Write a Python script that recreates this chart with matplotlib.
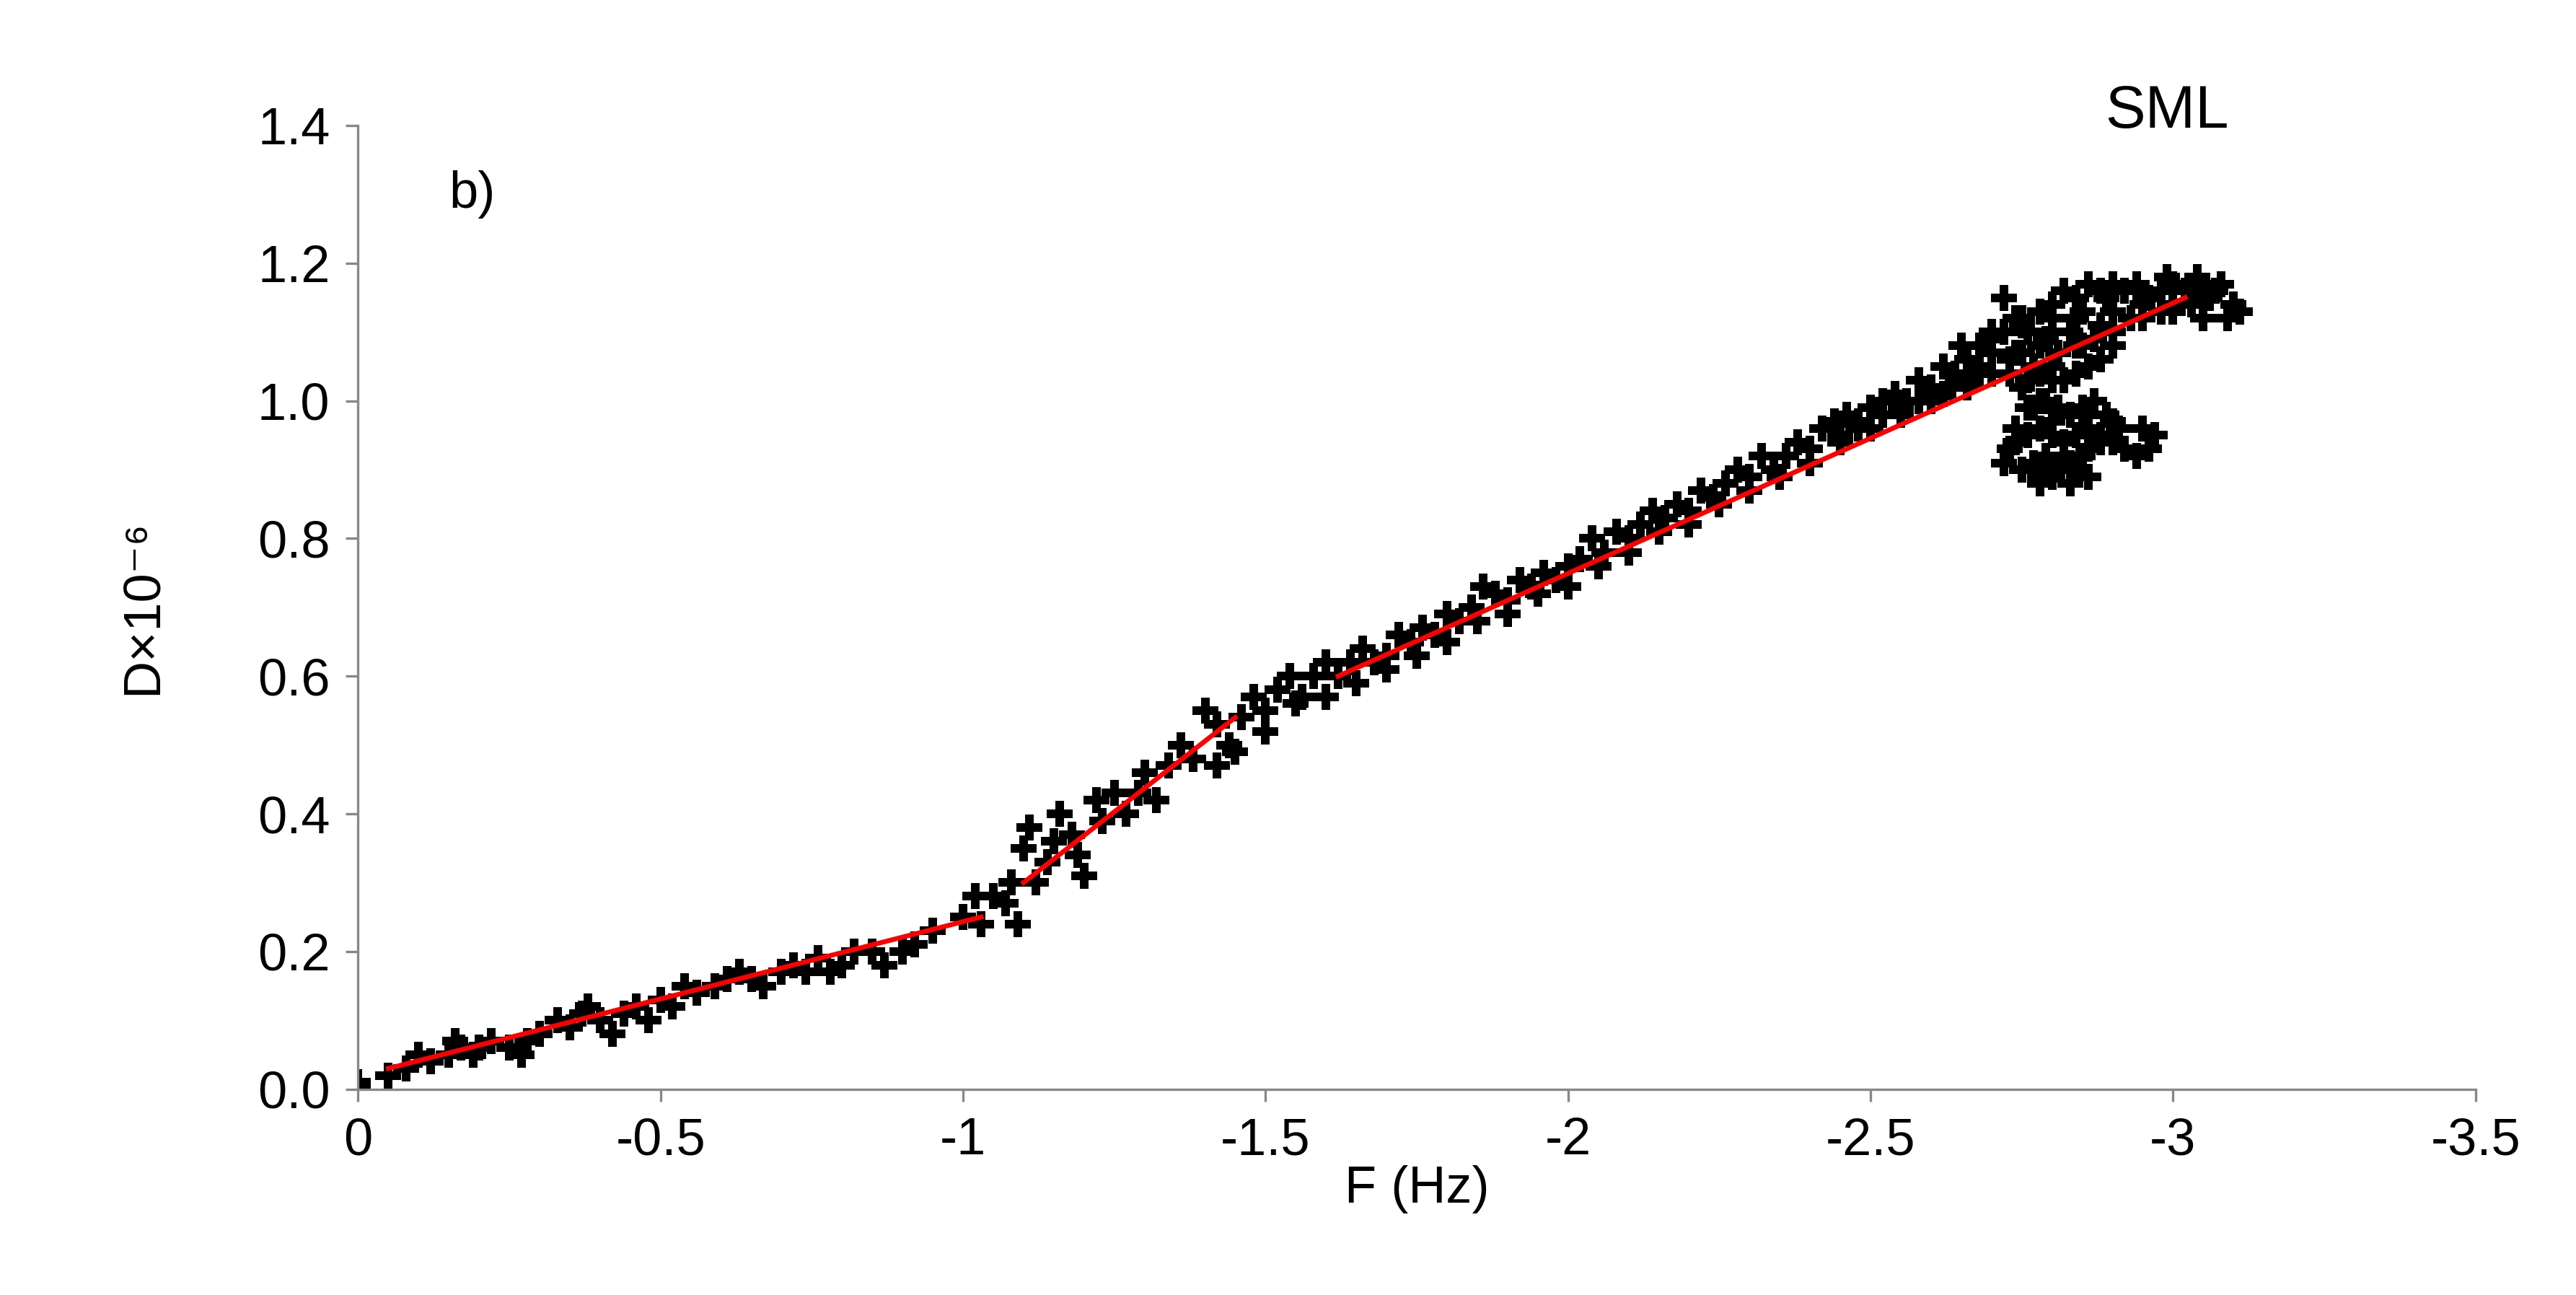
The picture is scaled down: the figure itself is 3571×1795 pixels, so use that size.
import matplotlib
matplotlib.use("Agg")
import matplotlib.pyplot as plt

plt.rcParams['font.family'] = ['Liberation Sans', 'DejaVu Sans']

# scattered measurements (F, D x 1e-6)
f_vals = [0, 0, -0.05, -0.08, -0.1, -0.12, -0.15, -0.16, -0.17, -0.19, -0.2, -0.22, -0.25, -0.27, -0.28,
          -0.3, -0.33, -0.35, -0.37, -0.38, -0.4, -0.42, -0.44, -0.46, -0.48, -0.5, -0.52, -0.54, -0.56,
          -0.59, -0.61, -0.63, -0.65, -0.67, -0.7, -0.72, -0.74, -0.76, -0.78, -0.8, -0.82, -0.85, -0.87,
          -0.9, -0.92, -0.95, -1.0, -1.02, -1.03, -1.05, -1.07, -1.08, -1.09, -1.1, -1.11, -1.12, -1.14,
          -1.15, -1.16, -1.18, -1.19, -1.2, -1.22, -1.23, -1.25, -1.27, -1.29, -1.3, -1.32, -1.34, -1.36,
          -1.38, -1.4, -1.42, -1.44, -1.46, -1.48, -1.5, -1.52, -1.54, -1.56, -1.58, -1.6, -1.62, -1.64,
          -1.66, -1.68, -1.7, -1.72, -1.74, -1.76, -1.78, -1.8, -1.82, -1.84, -1.86, -1.88, -1.9, -1.92,
          -1.94, -1.96, -1.98, -2.0, -2.02, -2.04, -2.06, -2.08, -2.1, -2.12, -2.14, -2.16, -2.18, -2.2,
          -2.22, -2.24, -2.26, -2.28, -2.3, -2.32, -2.34, -2.36, -2.38, -2.4, -2.42, -2.44, -2.46, -2.48,
          -2.5, -2.52, -2.54, -2.56, -2.58, -2.6, -2.62, -2.64, -2.66, -2.68, -2.7, -2.72, -2.74, -2.76,
          -2.78, -2.8, -2.82, -2.84, -2.86, -2.88, -2.9, -2.92, -2.94, -2.96, -2.98, -3.0, -3.02, -3.04,
          -3.06, -3.08, -3.1, -3.11, -3.09, -3.05, -3.0, -2.95, -2.9, -2.85, -2.8, -2.75, -2.72, -2.73,
          -2.75, -2.76, -2.74, -2.73, -2.72, -2.75, -2.78, -2.8, -2.82, -2.84, -2.86, -2.88, -2.9, -2.92,
          -2.94, -2.96, -2.97, -2.95, -2.9, -2.85, -2.8, -2.78, -2.8, -2.77, -2.7, -2.68, -2.66, -2.6,
          -2.55, -2.5, -2.45, -2.4, -2.35, -2.3, -2.25, -2.2, -2.15, -2.1, -2.05, -2.0, -1.95, -1.9,
          -1.85, -1.8, -1.75, -1.7, -1.65, -1.6, -1.55, -1.5, -1.45, -1.42,
          # dense cluster near the end of the run
          -2.74, -2.76, -2.78, -2.8, -2.82, -2.84, -2.86, -2.88, -2.77, -2.79, -2.81, -2.83, -2.85,
          -2.87, -2.89, -2.91, -2.76, -2.78, -2.8, -2.82, -2.84, -2.86, -2.88, -2.9, -2.77, -2.79,
          -2.81, -2.83, -2.85, -2.75, -2.78, -2.81, -2.84, -2.87, -2.78, -2.8, -2.83, -2.86,
          -2.65, -2.7, -2.75, -2.8, -2.85, -2.9, -2.95, -3.0, -3.05, -2.68, -2.73, -2.78, -2.83,
          -2.88, -2.93, -2.98, -3.03, -3.07, -2.6, -2.63, -2.66, -2.7, -2.74, -2.79, -2.84,
          -2.89, -2.94, -2.99, -3.04, -2.55, -2.58, -2.62, -2.45, -2.48, -2.52]
d_vals = [0.01, 0.0, 0.02, 0.03, 0.05, 0.04, 0.05, 0.07, 0.06, 0.05, 0.06, 0.07, 0.06, 0.05, 0.07,
          0.08, 0.1, 0.09, 0.11, 0.12, 0.1, 0.08, 0.11, 0.12, 0.1, 0.13, 0.12, 0.15, 0.14,
          0.15, 0.16, 0.17, 0.16, 0.15, 0.17, 0.18, 0.17, 0.19, 0.17, 0.18, 0.2, 0.2, 0.18,
          0.2, 0.21, 0.23, 0.25, 0.28, 0.24, 0.28, 0.27, 0.3, 0.24, 0.35, 0.38, 0.3, 0.33,
          0.36, 0.4, 0.37, 0.34, 0.31, 0.42, 0.39, 0.43, 0.4, 0.43, 0.46, 0.42, 0.47, 0.5,
          0.48, 0.55, 0.53, 0.5, 0.54, 0.57, 0.55, 0.58, 0.6, 0.57, 0.6, 0.62, 0.6, 0.62,
          0.64, 0.62, 0.63, 0.66, 0.65, 0.67, 0.66, 0.69, 0.68, 0.7, 0.73, 0.72, 0.71, 0.74,
          0.73, 0.75, 0.74, 0.76, 0.77, 0.8, 0.78, 0.81, 0.8, 0.82, 0.84, 0.83, 0.85, 0.84,
          0.87, 0.86, 0.88, 0.9, 0.89, 0.92, 0.9, 0.92, 0.94, 0.93, 0.96, 0.97, 0.98, 0.97,
          0.99, 1.0, 1.01, 1.0, 1.03, 1.02, 1.05, 1.04, 1.06, 1.08, 1.07, 1.1, 1.12, 1.1,
          1.13, 1.14, 1.16, 1.15, 1.17, 1.16, 1.17, 1.16, 1.17, 1.15, 1.16, 1.17, 1.16, 1.18,
          1.15, 1.17, 1.14, 1.13, 1.12, 1.12, 1.13, 1.12, 1.1, 1.08, 1.1, 1.12, 1.15, 1.04,
          1.02, 0.99, 0.96, 0.93, 0.91, 0.9, 0.89, 0.9, 0.92, 0.9, 0.93, 0.95, 0.94, 0.93,
          0.92, 0.93, 0.95, 0.96, 0.97, 0.98, 0.97, 1.0, 1.03, 1.05, 1.09, 1.05, 1.02, 1.01,
          0.98, 0.96, 0.95, 0.91, 0.89, 0.87, 0.85, 0.82, 0.81, 0.78, 0.76, 0.73, 0.72, 0.69,
          0.68, 0.65, 0.63, 0.61, 0.59, 0.57, 0.56, 0.52, 0.49, 0.47,
          0.94, 0.95, 0.96, 0.95, 0.94, 0.95, 0.96, 0.94, 0.99, 1.0, 0.99, 0.98, 0.99,
          1.0, 0.98, 0.96, 1.03, 1.04, 1.05, 1.03, 1.04, 1.05, 1.06, 1.08, 0.91, 0.92,
          0.9, 0.91, 0.92, 1.07, 1.08, 1.07, 1.08, 1.09, 0.88, 0.89, 0.88, 0.89,
          1.08, 1.1, 1.11, 1.12, 1.13, 1.13, 1.14, 1.14, 1.15, 1.04, 1.06, 1.08, 1.1,
          1.11, 1.12, 1.13, 1.14, 1.16, 1.0, 1.02, 1.03, 1.04, 1.07, 1.09, 1.12,
          1.15, 1.16, 1.18, 1.17, 0.99, 1.0, 1.01, 0.94, 0.96, 0.98]

# piecewise linear fits: (F start, F end, D start, D end)
fit_f = [(-0.05, -1.03), (-1.1, -1.45), (-1.62, -3.02)]
fit_d = [(0.03, 0.25), (0.3, 0.54), (0.6, 1.15)]

fig = plt.figure(figsize=(17.855, 8.975), dpi=200)
ax = fig.add_axes([0.139, 0.159, 0.822, 0.744])

ax.plot(f_vals, d_vals, linestyle='none', marker='P', markersize=13,
        color='black', markeredgewidth=0, zorder=2)
for fx, dy in zip(fit_f, fit_d):
    ax.plot(fx, dy, color='red', linewidth=2.4, zorder=3)

ax.set_xlim(0, -3.5)
ax.set_ylim(0, 1.4)
ax.set_xticks([0, -0.5, -1, -1.5, -2, -2.5, -3, -3.5])
ax.set_xticklabels(['0', '-0.5', '-1', '-1.5', '-2', '-2.5', '-3', '-3.5'])
ax.set_yticks([0, 0.2, 0.4, 0.6, 0.8, 1.0, 1.2, 1.4])
ax.set_yticklabels(['0.0', '0.2', '0.4', '0.6', '0.8', '1.0', '1.2', '1.4'])
for s in ['top', 'right']:
    ax.spines[s].set_visible(False)
for s in ['left', 'bottom']:
    ax.spines[s].set_color('#888888')
    ax.spines[s].set_linewidth(1.2)
ax.tick_params(colors='#888888', labelcolor='black', labelsize=26, length=6, width=1.2, pad=8)

ax.set_xlabel('F (Hz)', fontsize=26, labelpad=0)
ax.set_ylabel('D×10⁻⁶', fontsize=26, labelpad=45)

ax.text(-0.15, 1.3, 'b)', fontsize=26, ha='left', va='center')
ax.text(-2.99, 1.42, 'SML', fontsize=30, ha='center', va='center')

fig.savefig('out.png', dpi=200)
